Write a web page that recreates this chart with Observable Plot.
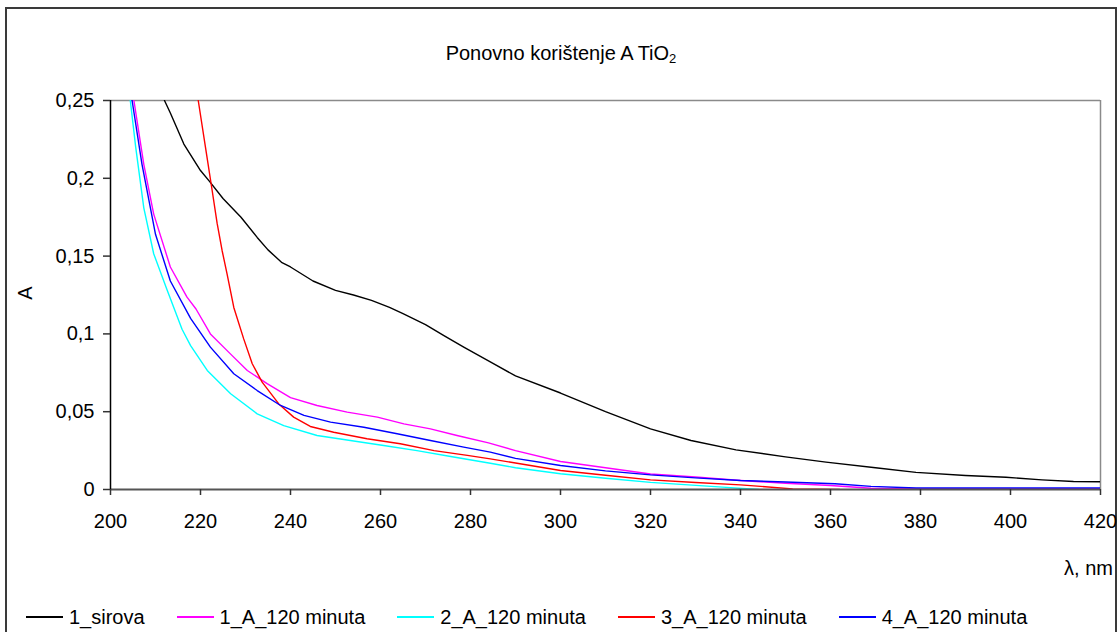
<!DOCTYPE html>
<html>
<head>
<meta charset="utf-8">
<script src="https://cdn.jsdelivr.net/npm/d3@7"></script>
<script src="https://cdn.jsdelivr.net/npm/@observablehq/plot@0.6"></script>
<style>
  html, body { margin: 0; padding: 0; background: #fff; }
  #wrap { position: relative; width: 1120px; height: 632px; overflow: hidden; background: #fff;
          font-family: "Liberation Sans", Arial, sans-serif; color: #000; }
  #frame { position: absolute; left: 5px; top: 7px; width: 1112px; height: 660px; border: 2px solid #3a3a3a; box-sizing: border-box; }
  #title { position: absolute; left: 5px; width: 1112px; top: 43px; text-align: center; font-size: 20px; line-height: 20px; }
  #title sub { font-size: 13px; vertical-align: -3px; line-height: 0; }
  #chart { position: absolute; left: 0; top: 0; }
  #ylab { position: absolute; left: 25px; top: 293px; font-size: 20px; transform: translate(-50%, -50%) rotate(-90deg); }
  #xlab { position: absolute; right: 7px; top: 557px; font-size: 20px; line-height: 22px; }
  #legend { position: absolute; left: 26px; top: 606px; display: flex; gap: 32px; font-size: 20px; line-height: 22px; }
  .item { display: flex; align-items: center; gap: 6px; white-space: nowrap; }
  .swatch { width: 37px; height: 0; border-top: 2px solid; }
</style>
</head>
<body>
<div id="wrap">
  <div id="frame"></div>
  <div id="title">Ponovno korištenje A TiO<sub>2</sub></div>
  <div id="chart"></div>
  <div id="ylab">A</div>
  <div id="xlab">λ, nm</div>
  <div id="legend"></div>
</div>
<script>
// ---- data ----
const seriesNames = ["1_sirova", "1_A_120 minuta", "2_A_120 minuta", "3_A_120 minuta", "4_A_120 minuta"];
const seriesColors = ["#000000", "#ff00ff", "#00ffff", "#ff0000", "#0000ff"];

const wlSirova = [212, 213.3, 216.3, 220, 222, 225, 229, 232.6, 235, 238, 240, 245, 250, 254, 258, 262, 265, 270, 274, 278.5, 284.4, 290, 300, 310, 320, 329, 339, 350, 359, 370, 379, 390, 399, 407, 414, 420];
const aSirova  = [0.25, 0.242, 0.222, 0.205, 0.198, 0.187, 0.175, 0.162, 0.154, 0.146, 0.143, 0.134, 0.128, 0.125, 0.1215, 0.117, 0.113, 0.106, 0.099, 0.0915, 0.082, 0.073, 0.062, 0.050, 0.039, 0.0315, 0.0255, 0.021, 0.0176, 0.014, 0.011, 0.009, 0.0079, 0.0062, 0.0051, 0.005];

const wl1A = [205.2, 207.4, 209.6, 213.3, 217, 219, 222.2, 226.7, 230.4, 234.8, 240, 245.9, 252.6, 259.3, 265.2, 271.1, 277, 284, 290, 300, 310, 320, 330, 340, 350, 360, 369, 380, 390, 400, 410, 420];
const a1A  = [0.25, 0.209, 0.177, 0.143, 0.1236, 0.116, 0.100, 0.087, 0.0765, 0.068, 0.059, 0.054, 0.0497, 0.0465, 0.0422, 0.039, 0.0347, 0.030, 0.025, 0.018, 0.014, 0.010, 0.008, 0.0058, 0.004, 0.0026, 0.0008, 0.0005, 0.0005, 0.0005, 0.0005, 0.0005];

const wl2A = [204.4, 205.6, 207.4, 209.6, 212.6, 215.9, 217.8, 221.5, 226.7, 232.6, 238.5, 245.9, 253.3, 260.7, 268.1, 275.6, 284.4, 290, 300, 310, 320, 336, 344];
const a2A  = [0.25, 0.22, 0.181, 0.1515, 0.128, 0.103, 0.0925, 0.0765, 0.0615, 0.0486, 0.0411, 0.0347, 0.0315, 0.0283, 0.025, 0.0212, 0.0169, 0.014, 0.0101, 0.0072, 0.0046, 0.0015, 0];

const wl3A = [219.5, 221.1, 222.6, 223.7, 224.8, 225.9, 227.4, 229.6, 231.5, 233.7, 237.4, 240.7, 244.4, 249.6, 257, 264.4, 271.9, 279.3, 284.4, 290, 300, 310, 320, 330, 340, 351.6, 362];
const a3A  = [0.25, 0.22, 0.192, 0.171, 0.1536, 0.1386, 0.117, 0.0968, 0.0808, 0.069, 0.055, 0.0465, 0.0405, 0.0368, 0.0326, 0.0294, 0.025, 0.0219, 0.0197, 0.017, 0.0122, 0.0092, 0.0062, 0.0045, 0.003, 0.0004, 0];

const wl4A = [204.8, 207, 210, 213.3, 217.8, 222.2, 227.4, 232.6, 237.8, 243, 248.9, 256.3, 263.7, 271.1, 278.5, 284.4, 290, 300, 310, 320, 330, 340, 350, 361, 369, 379, 390, 400, 410, 420];
const a4A  = [0.25, 0.209, 0.164, 0.134, 0.110, 0.0915, 0.0744, 0.0636, 0.054, 0.0476, 0.0433, 0.040, 0.0358, 0.0315, 0.0272, 0.024, 0.020, 0.0154, 0.012, 0.0094, 0.0075, 0.0058, 0.0048, 0.0037, 0.002, 0.001, 0.001, 0.001, 0.001, 0.001];

const xTicks = [200, 220, 240, 260, 280, 300, 320, 340, 360, 380, 400, 420];
const yTicks = [0, 0.05, 0.1, 0.15, 0.2, 0.25];

// ---- build tables ----
const wlArrays = [wlSirova, wl1A, wl2A, wl3A, wl4A];
const aArrays = [aSirova, a1A, a2A, a3A, a4A];
const tables = seriesNames.map((name, i) => wlArrays[i].map((w, j) => ({series: name, wl: w, a: aArrays[i][j]})));

const fmt = d => String(d).replace(".", ",");

const chart = Plot.plot({
  width: 1120,
  height: 560,
  marginTop: 100,
  marginBottom: 71,
  marginLeft: 110,
  marginRight: 20,
  style: {fontSize: "20px", fontFamily: "'Liberation Sans', Arial, sans-serif", background: "transparent", overflow: "visible"},
  x: {domain: [200, 420]},
  y: {domain: [0, 0.25]},
  color: {domain: seriesNames, range: seriesColors},
  marks: [
    Plot.ruleY([0.25], {stroke: "#8a8a8a", strokeWidth: 1.5}),
    Plot.ruleX([420], {stroke: "#8a8a8a", strokeWidth: 1.5}),
    ...tables.map(t => Plot.line(t, {x: "wl", y: "a", stroke: "series", strokeWidth: 1.4, clip: true})),
    Plot.ruleY([0], {stroke: "#555", strokeWidth: 2}),
    Plot.ruleX([200], {stroke: "#000", strokeWidth: 1.5}),
    Plot.axisX({ticks: xTicks, tickFormat: d => String(d), tickSize: 6, tickPadding: 18, label: null, stroke: "#333", strokeWidth: 1.5}),
    Plot.axisY({ticks: yTicks, tickFormat: fmt, tickSize: 7, tickPadding: 9, label: null, stroke: "#333", strokeWidth: 1.5})
  ]
});
document.getElementById("chart").appendChild(chart);

// ---- legend ----
const legend = document.getElementById("legend");
seriesNames.forEach((name, i) => {
  const it = document.createElement("div");
  it.className = "item";
  const sw = document.createElement("span");
  sw.className = "swatch";
  sw.style.borderTopColor = seriesColors[i];
  const tx = document.createElement("span");
  tx.textContent = name;
  it.appendChild(sw);
  it.appendChild(tx);
  legend.appendChild(it);
});
</script>
</body>
</html>
